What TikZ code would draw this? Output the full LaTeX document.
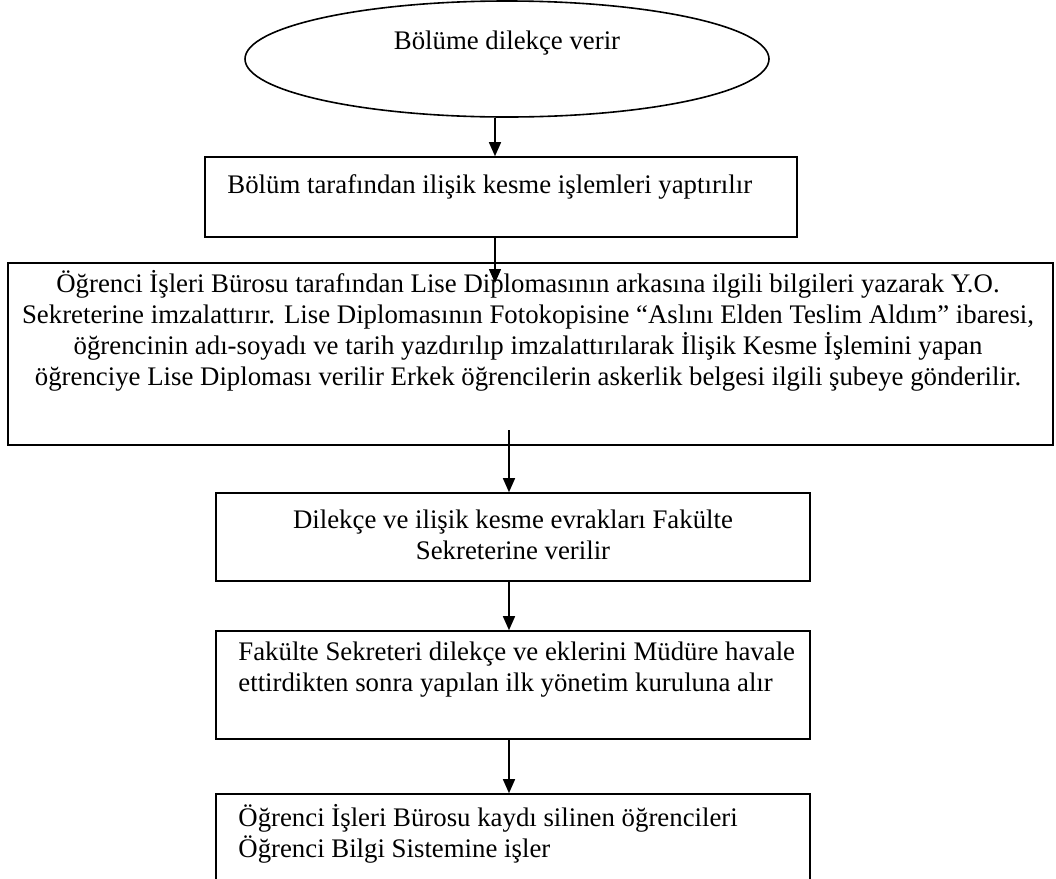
\documentclass[tikz,border=0pt]{standalone}
\usepackage{fontspec}
\setmainfont{Liberation Serif}
\usetikzlibrary{shapes.geometric,arrows.meta}

\tikzset{FLell/.style={ellipse,draw,line width=0.8pt,inner sep=0pt},
         FLbox/.style={rectangle,draw,line width=0.8pt,inner sep=0pt},
         FLtxt/.style={font=\fontsize{13.4}{15.5}\selectfont,inner sep=0pt},
         FLarr/.style={line width=0.75pt,-{Triangle[length=7pt,width=6pt]}}}

\begin{document}
\begin{tikzpicture}[x=0.5pt,y=-0.5pt]
    \useasboundingbox (0,0) rectangle (1056,879);
    \node[FLell,minimum width=262pt,minimum height=58pt] (el) at (507,59) {};
    \foreach \n/\x/\y/\w/\h in {b2/501/197/296pt/40pt,b3/530.5/354/522.5pt/91pt,
                                b4/513/537/297pt/44pt,b5/513/685/297pt/54pt,b6/513/847/297pt/53pt}
      {\node[FLbox,minimum width=\w,minimum height=\h] (\n) at (\x,\y) {};}
    % texts
    \node[FLtxt] (elt) at (507,43) {Bölüme dilekçe verir};
    \node[FLtxt,anchor=west] (b2t) at (227,187) {Bölüm tarafından ilişik kesme işlemleri yaptırılır};
    \node[FLtxt,align=center] (b3t) at (528,331) {Öğrenci İşleri Bürosu tarafından Lise Diplomasının arkasına ilgili bilgileri yazarak Y.O.\\
      Sekreterine imzalattırır. Lise Diplomasının Fotokopisine “Aslını Elden Teslim Aldım” ibaresi,\\
      öğrencinin adı-soyadı ve tarih yazdırılıp imzalattırılarak İlişik Kesme İşlemini yapan\\
      öğrenciye Lise Diploması verilir Erkek öğrencilerin askerlik belgesi ilgili şubeye gönderilir.};
    \node[FLtxt,align=center] (b4t) at (513,535) {Dilekçe ve ilişik kesme evrakları Fakülte\\ Sekreterine verilir};
    \node[FLtxt,align=left,anchor=west] (b5t) at (238,670) {Fakülte Sekreteri dilekçe ve eklerini Müdüre havale\\ ettirdikten sonra yapılan ilk yönetim kuruluna alır};
    \node[FLtxt,align=left,anchor=west] (b6t) at (238,834) {Öğrenci İşleri Bürosu kaydı silinen öğrencileri\\ Öğrenci Bilgi Sistemine işler};
    % connectors
    \coordinate (top) at (507,-6);
    \coordinate (up) at (495,0); \coordinate (dn) at (509,0);
    \coordinate (b2tip) at (495,283); \coordinate (b3tail) at (509,430);
    \draw[line width=0.75pt] (top) -- (el.north);
    \draw[FLarr] (el.south -| up) -- (b2.north -| up);
    \draw[FLarr] (b2.south -| up) -- (b2tip);
    \draw[FLarr] (b3tail) -- (b4.north -| dn);
    \draw[FLarr] (b4.south -| dn) -- (b5.north -| dn);
    \draw[FLarr] (b5.south -| dn) -- (b6.north -| dn);
\end{tikzpicture}
\end{document}
